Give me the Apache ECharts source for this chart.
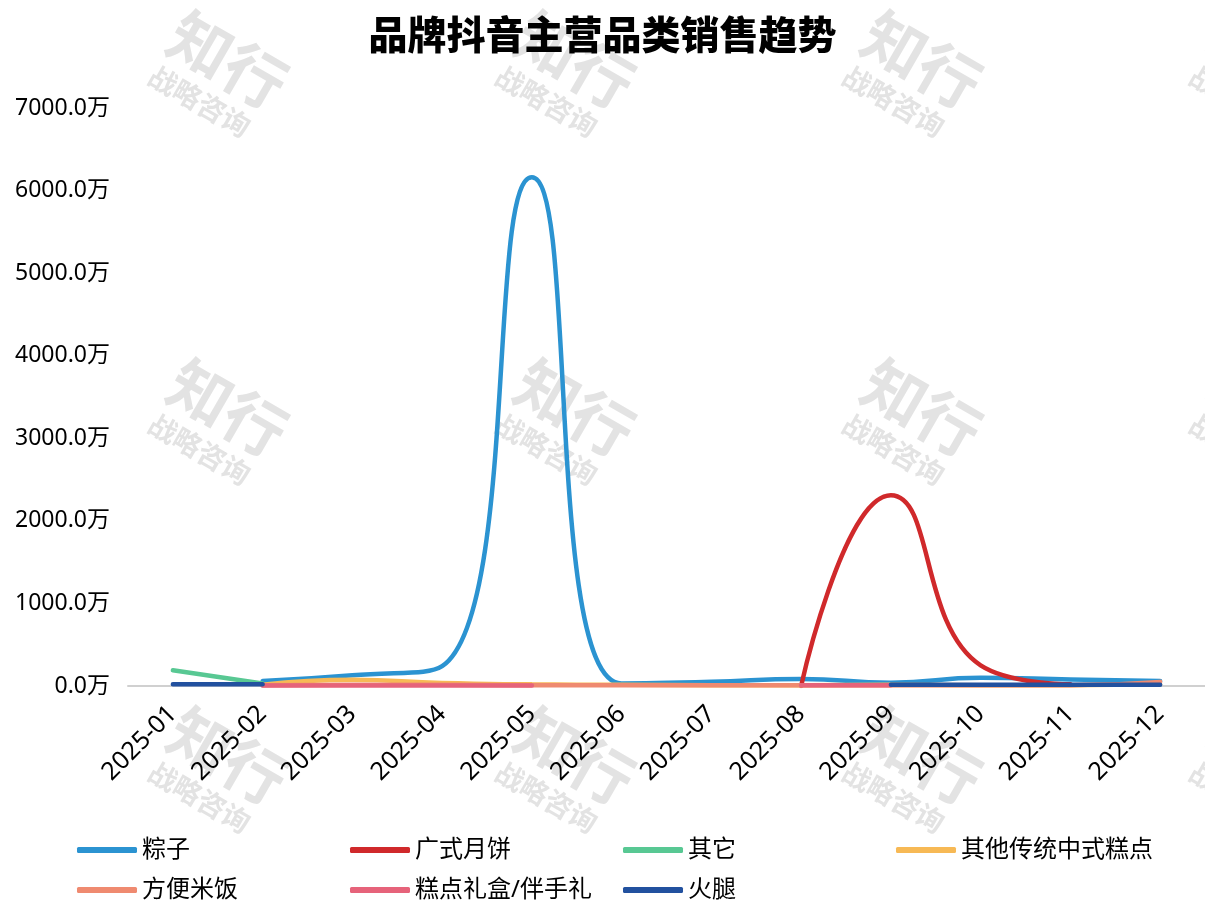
<!DOCTYPE html>
<html>
<head>
<meta charset="utf-8">
<script src="https://cdn.jsdelivr.net/npm/echarts@6/dist/echarts.min.js"></script>
<style>
  html, body { margin: 0; padding: 0; background: #fff; }
  #chart { width: 1205px; height: 909px; }
</style>
</head>
<body>
<div id="chart"></div>
<script>
// month categories
const months = ['2025-01', '2025-02', '2025-03', '2025-04', '2025-05', '2025-06',
  '2025-07', '2025-08', '2025-09', '2025-10', '2025-11', '2025-12'];

// sales per category, unit: 万
const zongzi = [null, 60, 130, 240, 6160, 30, 50, 85, 40, 100, 80, 60];
const guangshiYuebing = [null, null, null, null, null, null, null, 0, 2310, 250, 20, null];
const qita = [190, 30, null, null, null, null, null, null, null, null, null, null];
const chuantongGaodian = [null, 15, 75, 35, 20, 15, 10, 10, 15, 10, 10, 20];
const fangbianMifan = [null, 10, 15, 15, 10, 10, 10, 10, 10, 10, 10, 50];
const gaodianLihe = [null, 5, 5, 5, 5, null, null, 10, 10, null, null, null];
const huotui = [20, 20, null, null, null, null, null, null, 15, 15, 15, 15];

const seriesNames = ['粽子', '广式月饼', '其它', '其他传统中式糕点', '方便米饭', '糕点礼盒/伴手礼', '火腿'];
const seriesData = [zongzi, guangshiYuebing, qita, chuantongGaodian, fangbianMifan, gaodianLihe, huotui];
const colors = ['#2b93d1', '#d0292b', '#58c893', '#f7b955', '#ef8a70', '#e6637a', '#22519f'];

const yTicks = { min: 0, max: 7000, interval: 1000 };

const font = '"Noto Sans", "Noto Sans CJK SC", sans-serif';
const cjkFont = '"Noto Sans CJK SC", sans-serif';

// watermark "知行 战略咨询" tiles
function watermark(x, y) {
  return {
    type: 'group',
    x: x, y: y,
    rotation: -Math.PI / 6,
    z: -10,
    silent: true,
    children: [
      {
        type: 'text',
        style: {
          text: '知行', x: 0, y: 0, align: 'center', verticalAlign: 'middle',
          font: 'bold 62px ' + cjkFont, fill: '#e3e3e3'
        }
      },
      {
        type: 'text',
        style: {
          text: '战略咨询', x: -4, y: 50, align: 'center', verticalAlign: 'middle',
          font: 'bold 28px ' + cjkFont, fill: '#e3e3e3', letterSpacing: 9
        }
      }
    ]
  };
}

const wmGraphics = [];
[60, 408, 756].forEach(function (y) {
  [228, 575, 922, 1269].forEach(function (x) {
    wmGraphics.push(watermark(x, y));
  });
});

const chart = echarts.init(document.getElementById('chart'));

chart.setOption({
  backgroundColor: '#fff',
  animation: false,
  color: colors,
  title: {
    text: '品牌抖音主营品类销售趋势',
    left: 'center',
    top: 10,
    textStyle: { fontFamily: cjkFont, fontSize: 39, fontWeight: 900, color: '#000' }
  },
  graphic: wmGraphics,
  legend: {
    data: seriesNames,
    left: 72,
    top: 830,
    width: 1110,
    itemWidth: 60,
    itemHeight: 6,
    itemGap: 10,
    icon: 'roundRect',
    textStyle: {
      fontFamily: font, fontSize: 24, color: '#000',
      width: 198, overflow: 'truncate', lineHeight: 30
    }
  },
  grid: { left: 128, top: 108, width: 1085, height: 578 },
  xAxis: {
    type: 'category',
    data: months,
    boundaryGap: true,
    axisLine: { lineStyle: { color: '#d0d0d0', width: 2 } },
    axisTick: { show: false },
    axisLabel: {
      rotate: 45, interval: 0, margin: 24,
      fontFamily: font, fontSize: 25, color: '#000'
    }
  },
  yAxis: {
    type: 'value',
    min: yTicks.min,
    max: yTicks.max,
    interval: yTicks.interval,
    splitLine: { show: false },
    axisLine: { show: false },
    axisTick: { show: false },
    axisLabel: {
      margin: 18,
      fontFamily: font, fontSize: 23, color: '#000',
      formatter: function (v) { return v.toFixed(1) + '万'; }
    }
  },
  series: seriesNames.map(function (name, i) {
    return {
      name: name,
      type: 'line',
      data: seriesData[i],
      smooth: true,
      showSymbol: false,
      symbol: 'none',
      lineStyle: { width: 4.5, color: colors[i], cap: 'round' }
    };
  })
});
</script>
</body>
</html>
